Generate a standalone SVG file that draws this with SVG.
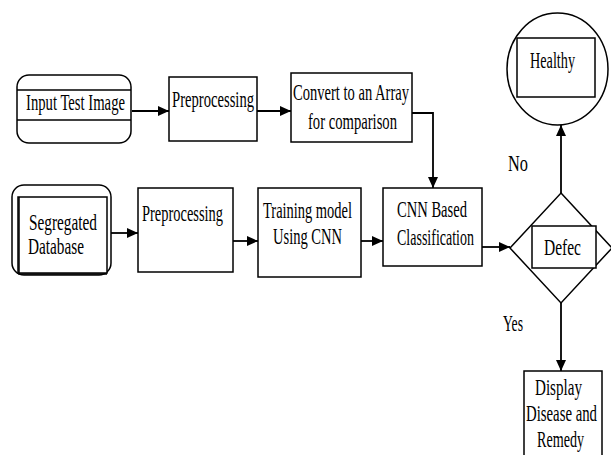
<svg xmlns="http://www.w3.org/2000/svg" width="611" height="455" viewBox="0 0 611 455">
  <style>
    .box { fill: #ffffff; stroke: #000000; stroke-width: 1.5; }
    .line { fill: none; stroke: #000000; stroke-width: 1.5; }
    .conn { fill: none; stroke: #000000; stroke-width: 1.8; marker-end: url(#arrow); }
    text { font-family: "Liberation Serif", "Times New Roman", serif; font-size: 22.5px; fill: #000000; }
  </style>
  <defs>
    <marker id="arrow" markerUnits="userSpaceOnUse" markerWidth="12" markerHeight="10" refX="11" refY="5" orient="auto">
      <path d="M0,0 L11,5 L0,10 z" fill="#000000"/>
    </marker>
  </defs>
  <rect width="611" height="455" fill="#ffffff"/>

  <!-- connectors -->
  <g id="connectors">
    <line class="conn" x1="132" y1="111" x2="169" y2="111"/>
    <line class="conn" x1="257" y1="111" x2="291" y2="111"/>
    <polyline class="conn" points="412,113 433,113 433,188"/>
    <line class="conn" x1="111" y1="233" x2="138" y2="233"/>
    <line class="conn" x1="233" y1="241" x2="258" y2="241"/>
    <line class="conn" x1="361" y1="241" x2="383" y2="241"/>
    <line class="conn" x1="482" y1="247" x2="510" y2="247"/>
    <line class="conn" x1="561" y1="193" x2="561" y2="125"/>
    <line class="conn" x1="561" y1="303" x2="561" y2="371"/>
    <text x="508" y="171" textLength="20" lengthAdjust="spacingAndGlyphs">No</text>
    <text x="503" y="331" textLength="20" lengthAdjust="spacingAndGlyphs">Yes</text>
  </g>

  <!-- input test image -->
  <g id="input-test-image">
    <rect class="box" x="17" y="75" width="114" height="68" rx="12" ry="12"/>
    <line class="line" x1="17" y1="90" x2="131" y2="90"/>
    <line class="line" x1="17" y1="120" x2="131" y2="120"/>
    <text x="26" y="110" textLength="99" lengthAdjust="spacingAndGlyphs">Input Test Image</text>
  </g>

  <!-- preprocessing (test image) -->
  <g id="preprocessing-test">
    <rect class="box" x="169" y="77" width="88" height="64"/>
    <text x="172" y="107" textLength="82" lengthAdjust="spacingAndGlyphs">Preprocessing</text>
  </g>

  <!-- convert to array -->
  <g id="convert-array">
    <rect class="box" x="291" y="73" width="121" height="69"/>
    <text x="293" y="100" textLength="116" lengthAdjust="spacingAndGlyphs">Convert to an Array</text>
    <text x="308" y="129" textLength="89" lengthAdjust="spacingAndGlyphs">for comparison</text>
  </g>

  <!-- segregated database -->
  <g id="segregated-database">
    <rect class="box" x="12" y="185" width="99" height="90" rx="12" ry="12"/>
    <rect class="box" x="18" y="197" width="89" height="76"/>
    <polyline class="line" points="19,197 19,274 107,274" stroke-width="2.5"/>
    <text x="29" y="230" textLength="68" lengthAdjust="spacingAndGlyphs">Segregated</text>
    <text x="28" y="254" textLength="56" lengthAdjust="spacingAndGlyphs">Database</text>
  </g>

  <!-- preprocessing (database) -->
  <g id="preprocessing-db">
    <rect class="box" x="138" y="188" width="95" height="84"/>
    <text x="142" y="221" textLength="81" lengthAdjust="spacingAndGlyphs">Preprocessing</text>
  </g>

  <!-- training model -->
  <g id="training-model">
    <rect class="box" x="258" y="188" width="103" height="89"/>
    <text x="263" y="218" textLength="89" lengthAdjust="spacingAndGlyphs">Training model</text>
    <text x="273" y="244" textLength="69" lengthAdjust="spacingAndGlyphs">Using CNN</text>
  </g>

  <!-- cnn classification -->
  <g id="cnn-classification">
    <rect class="box" x="383" y="188" width="99" height="78"/>
    <text x="397" y="217" textLength="70" lengthAdjust="spacingAndGlyphs">CNN Based</text>
    <text x="397" y="245" textLength="77" lengthAdjust="spacingAndGlyphs">Classification</text>
  </g>

  <!-- defect decision -->
  <g id="defect-decision">
    <polygon class="box" points="561,193 612,248 561,303 510,248"/>
    <rect class="box" x="532" y="226" width="64" height="42"/>
    <text x="544" y="255" textLength="37" lengthAdjust="spacingAndGlyphs">Defec</text>
  </g>

  <!-- healthy -->
  <g id="healthy">
    <ellipse class="box" cx="557.5" cy="69" rx="50.5" ry="56"/>
    <rect class="box" x="517" y="38" width="78" height="59"/>
    <text x="530" y="68" textLength="45" lengthAdjust="spacingAndGlyphs">Healthy</text>
  </g>

  <!-- display disease and remedy -->
  <g id="display-remedy">
    <rect class="box" x="524" y="371" width="78" height="90"/>
    <text x="535" y="395" textLength="47" lengthAdjust="spacingAndGlyphs">Display</text>
    <text x="526" y="421" textLength="71" lengthAdjust="spacingAndGlyphs">Disease and</text>
    <text x="537" y="447" textLength="47" lengthAdjust="spacingAndGlyphs">Remedy</text>
  </g>
</svg>
